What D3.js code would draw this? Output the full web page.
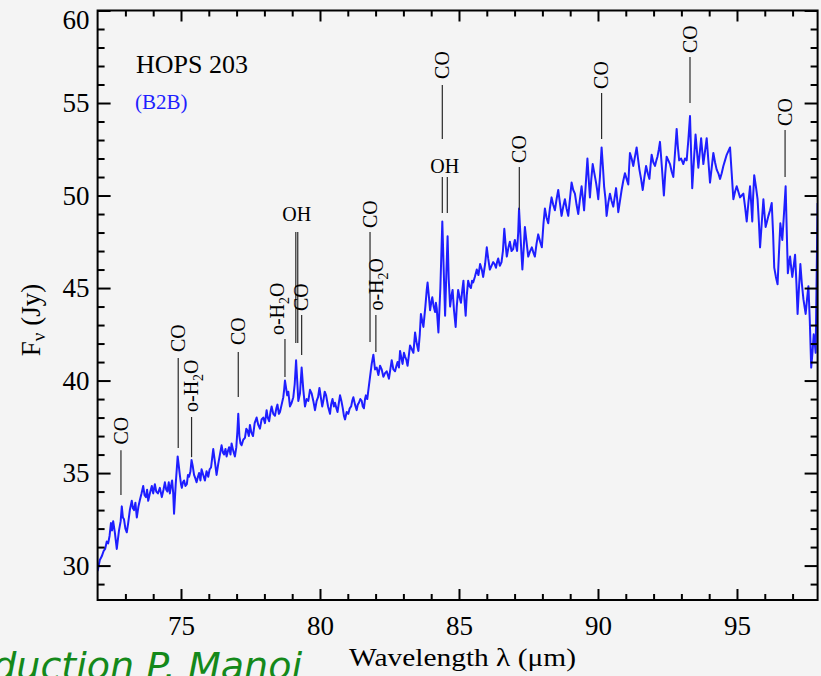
<!DOCTYPE html>
<html>
<head>
<meta charset="utf-8">
<script src="https://cdn.jsdelivr.net/npm/d3@7"></script>
<style>
  html, body { margin: 0; padding: 0; background: #f4f4f4; }
  svg { display: block; }
</style>
</head>
<body>
<svg id="chart" width="821" height="676"></svg>
<script>
// PACS spectrum of HOPS 203, wavelength in micron and flux density in Jy
const wavelength = [
  72.00, 72.08, 72.15, 72.22, 72.27, 72.33, 72.38, 72.43, 72.48, 72.52, 72.56, 72.62, 72.69, 72.77, 72.83, 72.87,
  72.91, 72.95, 73.00, 73.05, 73.10, 73.16, 73.23, 73.27, 73.31, 73.36, 73.41, 73.47, 73.53, 73.58, 73.64, 73.69,
  73.74, 73.78, 73.82, 73.88, 73.95, 74.00, 74.06, 74.11, 74.17, 74.24, 74.31, 74.37, 74.42, 74.47, 74.51, 74.56,
  74.60, 74.64, 74.68, 74.72, 74.75, 74.81, 74.88, 74.92, 74.95, 75.00, 75.03, 75.07, 75.11, 75.16, 75.21, 75.25,
  75.29, 75.34, 75.38, 75.42, 75.47, 75.52, 75.56, 75.61, 75.65, 75.70, 75.74, 75.80, 75.86, 75.92, 75.98, 76.03,
  76.08, 76.12, 76.16, 76.22, 76.28, 76.34, 76.40, 76.46, 76.51, 76.55, 76.60, 76.64, 76.69, 76.73, 76.78, 76.82,
  76.88, 76.94, 76.99, 77.03, 77.06, 77.10, 77.14, 77.18, 77.24, 77.30,
  77.35, 77.39, 77.44, 77.48, 77.53, 77.59, 77.65, 77.72, 77.78, 77.84, 77.90, 77.96, 78.02, 78.08, 78.12, 78.17,
  78.22, 78.26, 78.32, 78.38, 78.43, 78.47, 78.52, 78.56, 78.62, 78.68, 78.71, 78.74, 78.78, 78.82, 78.86, 78.92,
  78.98, 79.04, 79.09, 79.14, 79.18, 79.22, 79.28, 79.34, 79.40, 79.46, 79.52, 79.58, 79.64, 79.70, 79.76, 79.82,
  79.88, 79.93, 79.98, 80.04, 80.08, 80.12, 80.17, 80.22, 80.29, 80.36, 80.40, 80.45, 80.50, 80.54, 80.59, 80.63,
  80.68, 80.72, 80.77, 80.82, 80.86, 80.90, 80.96, 81.02, 81.07, 81.12, 81.16, 81.20, 81.26, 81.32, 81.36, 81.40,
  81.45, 81.50, 81.54, 81.58, 81.62, 81.65, 81.70, 81.75, 81.80, 81.86, 81.92, 81.98, 82.04, 82.10, 82.16, 82.22,
  82.28, 82.34, 82.40,
  82.44, 82.48, 82.53, 82.58, 82.64, 82.70, 82.75, 82.79, 82.84, 82.88, 82.93, 82.97, 83.02, 83.06, 83.11, 83.15,
  83.20, 83.24, 83.30, 83.36, 83.42, 83.48, 83.54, 83.59, 83.63, 83.68, 83.72, 83.79, 83.84, 83.87, 83.92, 83.96,
  84.00, 84.04, 84.09, 84.14, 84.17, 84.20, 84.26, 84.33, 84.40, 84.45, 84.50, 84.55, 84.59, 84.63, 84.68, 84.73,
  84.77, 84.82, 84.88, 84.92, 84.97, 85.02, 85.07, 85.12, 85.16, 85.20, 85.24, 85.28, 85.33, 85.38, 85.43, 85.47,
  85.51, 85.57, 85.64, 85.70, 85.76, 85.82, 85.87, 85.94, 86.00, 86.05, 86.11, 86.17, 86.23, 86.28, 86.33, 86.37,
  86.41, 86.47, 86.53, 86.58, 86.63, 86.68, 86.72, 86.78, 86.83, 86.89, 86.95, 86.98, 87.01, 87.05, 87.09, 87.13,
  87.16, 87.22, 87.28, 87.33, 87.37, 87.43, 87.49, 87.56, 87.62,
  87.68, 87.73, 87.79, 87.85, 87.92, 87.98, 88.04, 88.09, 88.15, 88.21, 88.27, 88.33, 88.39, 88.45, 88.51, 88.57,
  88.63, 88.69, 88.75, 88.81, 88.87, 88.93, 88.99, 89.05, 89.11, 89.17, 89.23, 89.29, 89.35, 89.41, 89.46, 89.50,
  89.56, 89.62, 89.67, 89.71, 89.76, 89.81, 89.87, 89.93, 89.97, 90.01, 90.07, 90.13, 90.18, 90.22, 90.27, 90.31,
  90.37, 90.43, 90.49, 90.55, 90.60, 90.65, 90.69, 90.73, 90.79, 90.85, 90.91, 90.97, 91.03, 91.09, 91.12, 91.15,
  91.21, 91.27, 91.33, 91.39, 91.44, 91.49, 91.55, 91.61, 91.67, 91.73, 91.79, 91.85, 91.89, 91.93, 91.99, 92.05,
  92.10, 92.14, 92.19, 92.23, 92.30, 92.37, 92.42, 92.47, 92.53, 92.59, 92.65, 92.71, 92.77, 92.83, 92.87, 92.92,
  92.99, 93.07, 93.13, 93.19, 93.25, 93.31, 93.35, 93.39, 93.45, 93.51, 93.56, 93.61, 93.66, 93.71, 93.75, 93.79,
  93.85, 93.91, 93.97, 94.03, 94.09, 94.15, 94.21, 94.27, 94.33, 94.39, 94.45, 94.51, 94.57, 94.63, 94.69, 94.75,
  94.81, 94.87, 94.93, 94.99, 95.05, 95.11, 95.17, 95.23, 95.29, 95.35, 95.41, 95.47, 95.51, 95.55, 95.58, 95.62,
  95.68, 95.74, 95.79, 95.83, 95.89, 95.95, 95.99, 96.03, 96.08, 96.13, 96.19, 96.25, 96.30, 96.34, 96.40, 96.46,
  96.51, 96.56, 96.60, 96.63, 96.69, 96.75, 96.79, 96.83, 96.87, 96.91, 96.95, 96.99, 97.04, 97.09, 97.14, 97.18,
  97.23, 97.28, 97.33, 97.39, 97.43, 97.47, 97.52, 97.57, 97.62, 97.67, 97.72, 97.76, 97.80, 97.83, 97.90
];
const flux = [
  29.7, 30.3, 30.5, 30.8, 30.9, 31.3, 31.2, 31.6, 32.3, 31.9, 32.4, 31.8, 30.9, 31.9, 32.4, 33.2,
  32.6, 32.5, 32.0, 31.8, 32.3, 33.0, 33.5, 33.1, 33.0, 33.4, 32.6, 33.2, 33.6, 33.9, 34.3, 33.8,
  33.7, 34.1, 33.5, 33.9, 34.3, 33.9, 34.4, 34.0, 33.9, 34.2, 33.7, 34.1, 34.5, 34.1, 34.0, 34.5,
  33.9, 34.3, 34.6, 33.9, 32.8, 34.4, 35.9, 35.4, 35.0, 34.4, 34.2, 34.5, 34.6, 34.3, 34.4, 34.9,
  34.8, 35.1, 35.7, 35.4, 34.9, 34.7, 34.5, 34.8, 35.0, 34.6, 35.2, 34.9, 34.6, 35.1, 34.8, 35.2,
  35.3, 35.8, 36.3, 35.6, 34.9, 35.5, 36.0, 36.5, 36.1, 36.0, 36.3, 35.9, 36.2, 36.4, 36.0, 36.6,
  36.2, 35.9, 36.4, 37.3, 38.2, 37.0, 36.6, 36.5, 36.8, 36.9,
  37.4, 37.3, 37.0, 37.6, 37.2, 37.0, 37.7, 38.0, 37.6, 37.4, 37.9, 38.0, 37.7, 38.4, 38.0, 37.8,
  38.3, 38.6, 38.2, 38.1, 38.5, 38.7, 38.2, 38.3, 38.7, 39.1, 39.5, 40.0, 39.6, 39.2, 39.4, 38.6,
  38.8, 39.1, 39.8, 41.1, 40.0, 38.9, 39.3, 40.7, 39.5, 38.6, 39.0, 38.9, 39.5, 39.3, 38.9, 38.4,
  38.9, 39.1, 39.6, 39.0, 38.6, 38.9, 39.4, 39.2, 38.6, 38.2, 38.7, 39.0, 38.6, 38.8, 38.5, 38.3,
  38.8, 39.2, 38.9, 38.5, 38.1, 37.9, 38.3, 38.2, 38.5, 38.6, 38.9, 39.1, 38.7, 38.4, 38.7, 38.8,
  39.0, 38.9, 38.6, 38.5, 39.0, 39.2, 39.0, 39.6, 40.2, 40.9, 41.4, 40.6, 40.7, 40.3, 40.8, 40.6,
  40.2, 40.4, 40.5,
  40.3, 40.1, 40.6, 41.1, 40.6, 40.5, 40.8, 41.0, 40.7, 41.6, 41.2, 40.9, 41.5, 41.3, 41.1, 40.8,
  41.4, 41.9, 41.7, 41.5, 42.6, 42.0, 41.6, 42.5, 43.6, 43.2, 42.9, 44.0, 44.9, 45.3, 44.5, 43.8,
  44.2, 44.5, 44.0, 43.7, 44.2, 43.9, 42.6, 45.0, 48.6, 46.0, 43.5, 46.0, 47.8, 45.5, 44.0, 44.6,
  44.9, 43.8, 42.9, 44.0, 44.9, 44.5, 44.2, 44.9, 45.4, 44.3, 43.5, 44.6, 45.4, 45.1, 45.0, 45.4,
  45.3, 45.6, 46.0, 45.7, 46.3, 46.0, 45.6, 46.3, 47.2, 46.6, 46.0, 46.2, 46.4, 46.3, 46.1, 46.4,
  46.6, 46.2, 46.4, 47.0, 48.2, 47.3, 46.7, 47.2, 47.5, 47.0, 47.1, 47.4, 47.6, 47.3, 47.0, 48.0,
  49.3, 47.6, 46.0, 47.2, 48.3, 47.5, 46.7, 47.0, 47.2,
  46.9, 46.7, 47.4, 47.9, 47.5, 47.2, 48.5, 49.3, 48.8, 48.5, 49.3, 49.9, 49.5, 49.2, 49.8, 50.3,
  49.6, 48.9, 49.4, 49.8, 49.3, 48.9, 49.8, 50.7, 50.3, 50.1, 49.5, 49.0, 49.8, 50.5, 49.8, 49.2,
  50.6, 52.0, 50.8, 49.9, 50.9, 51.7, 51.2, 50.7, 50.3, 49.8, 51.0, 52.6, 51.5, 50.5, 49.8, 48.9,
  49.6, 50.1, 49.7, 49.4, 49.9, 50.4, 49.8, 49.1, 49.7, 50.3, 50.8, 51.2, 50.9, 50.6, 51.5, 52.3,
  52.0, 51.6, 52.1, 52.6, 52.0, 51.4, 50.9, 50.3, 51.0, 51.6, 51.2, 50.9, 51.6, 52.2, 51.8, 51.6,
  51.9, 52.1, 52.5, 52.9, 51.5, 50.0, 51.2, 52.1, 51.9, 51.7, 51.3, 51.0, 52.3, 53.6, 52.7, 51.9,
  52.0, 51.7, 52.0, 51.9, 53.0, 54.3, 52.3, 50.4, 51.9, 53.3, 52.4, 51.5, 52.3, 53.1, 52.4, 51.7,
  52.4, 53.1, 51.9, 50.7, 51.5, 52.3, 51.8, 51.4, 51.2, 50.9, 51.2, 51.6, 51.9, 52.2, 52.4, 52.6,
  51.2, 49.8, 50.2, 50.5, 50.2, 49.9, 50.0, 50.1, 49.4, 48.6, 49.6, 50.5, 49.6, 48.6, 49.9, 51.1,
  50.5, 49.8, 48.5, 47.2, 48.5, 49.8, 49.0, 48.3, 48.6, 48.9, 49.2, 49.6, 47.9, 46.1, 45.6, 45.2,
  46.9, 48.5, 48.0, 47.6, 49.0, 50.5, 48.1, 45.8, 46.3, 46.7, 46.1, 45.6, 46.2, 46.8, 45.2, 43.6,
  45.0, 46.3, 45.3, 44.4, 44.0, 43.6, 44.4, 45.1, 43.2, 40.7, 41.6, 42.5, 42.0, 41.5, 49.6
];

// Axis tick values
const xTickValues = [75, 80, 85, 90, 95];
const yTickValues = [30, 35, 40, 45, 50, 55, 60];

// Line identifications: species, line wavelength(s), marker top/bottom and label start (Jy)
const featureNames = ["CO", "CO", "o-H2O", "CO", "o-H2O", "OH", "CO", "CO", "o-H2O", "CO", "OH", "CO", "CO", "CO", "CO"];
const featureWaves = [[72.84], [74.90], [75.38], [77.06], [78.74], [79.13, 79.20], [79.34], [81.80], [82.01],
                      [84.40], [84.40, 84.58], [87.17], [90.13], [93.31], [96.73]];
const featureTops = [36.24, 41.22, 38.03, 41.54, 42.24, 48.03, 43.54, 48.03, 43.54, 55.97, 51.00, 51.54, 55.54, 57.49, 53.54];
const featureBottoms = [33.81, 36.35, 35.86, 39.11, 40.19, 42.03, 41.38, 42.08, 41.54, 53.05, 49.05, 49.22, 53.05, 55.00, 51.00];
const featureLabelAt = [36.54, 41.54, 38.30, 41.92, 42.46, 48.62, 43.76, 48.24, 43.78, 56.30, 51.20, 51.76, 55.76, 57.70, 53.76];

const plot = { left: 97.6, right: 817.6, top: 10.5, bottom: 600 };
const x = d3.scaleLinear().domain([72, 97.9]).range([plot.left, plot.right]);
const y = d3.scaleLinear().domain([28.14, 60]).range([plot.bottom, plot.top]);

const svg = d3.select("#chart");
const serif = "'Liberation Serif', 'Times New Roman', serif";

svg.append("rect").attr("width", 821).attr("height", 676).attr("fill", "#f4f4f4");

svg.append("defs").append("clipPath").attr("id", "plot-clip")
  .append("rect")
  .attr("x", plot.left).attr("y", plot.top)
  .attr("width", plot.right - plot.left).attr("height", plot.bottom - plot.top);

// Spectrum
const line = d3.line()
  .x(i => x(wavelength[i]))
  .y(i => y(flux[i]));

svg.append("path")
  .datum(d3.range(wavelength.length))
  .attr("clip-path", "url(#plot-clip)")
  .attr("fill", "none")
  .attr("stroke", "#1e1eff")
  .attr("stroke-width", 2)
  .attr("stroke-linejoin", "round")
  .attr("d", line);

// Line markers
const marks = svg.append("g").attr("class", "features");
featureNames.forEach((name, i) => {
  featureWaves[i].forEach(w => {
    marks.append("line")
      .attr("x1", x(w)).attr("x2", x(w))
      .attr("y1", y(featureTops[i])).attr("y2", y(featureBottoms[i]))
      .attr("stroke", "#2a2a2a").attr("stroke-width", 1.2);
  });
  const xc = d3.mean(featureWaves[i], w => x(w));
  if (name === "OH") {
    marks.append("text")
      .attr("x", xc).attr("y", y(featureLabelAt[i]))
      .attr("text-anchor", "middle")
      .style("font-family", serif).style("font-size", "20px")
      .attr("fill", "#000")
      .text("OH");
    return;
  }
  // the water line beside the OH doublet carries its label set off to the left
  const shift = (name === "o-H2O" && Math.abs(featureWaves[i][0] - 78.74) < 0.01) ? -8 : 0;
  const t = marks.append("text")
    .attr("transform", `translate(${xc + shift},${y(featureLabelAt[i])}) rotate(-90)`)
    .attr("dy", "0.34em")
    .style("font-family", serif).style("font-size", "20px")
    .attr("fill", "#000");
  if (name === "o-H2O") {
    t.append("tspan").text("o-H");
    t.append("tspan").style("font-size", "14px").attr("dy", 5).text("2");
    t.append("tspan").attr("dy", -5).text("O");
  } else {
    t.text(name);
  }
});

// Axes: ticks drawn inward on all four sides
function styleAxis(g) {
  g.attr("font-family", null).attr("font-size", null);
  g.select(".domain").remove();
  g.selectAll(".tick line").attr("stroke", "#000").attr("stroke-width", 2);
  g.selectAll(".tick text")
    .style("font-family", serif)
    .style("font-size", "27px")
    .attr("fill", "#000");
}
const xMinor = d3.range(73, 98).filter(v => v % 5 !== 0);
const yMinor = d3.range(29, 60).filter(v => v % 5 !== 0);

svg.append("g").attr("transform", `translate(0,${plot.bottom})`)
  .call(d3.axisBottom(x).tickValues(xTickValues).tickSize(-11).tickSizeOuter(0).tickPadding(16))
  .call(styleAxis);
svg.append("g").attr("transform", `translate(0,${plot.bottom})`)
  .call(d3.axisBottom(x).tickValues(xMinor).tickSize(-6).tickSizeOuter(0).tickFormat(""))
  .call(styleAxis);
svg.append("g").attr("transform", `translate(0,${plot.top})`)
  .call(d3.axisTop(x).tickValues(xTickValues).tickSize(-11).tickSizeOuter(0).tickFormat(""))
  .call(styleAxis);
svg.append("g").attr("transform", `translate(0,${plot.top})`)
  .call(d3.axisTop(x).tickValues(xMinor).tickSize(-6).tickSizeOuter(0).tickFormat(""))
  .call(styleAxis);

const yAxisG = svg.append("g").attr("transform", `translate(${plot.left},0)`)
  .call(d3.axisLeft(y).tickValues(yTickValues).tickSize(-13).tickSizeOuter(0).tickPadding(8))
  .call(styleAxis);
// keep the top label inside the frame height
yAxisG.selectAll(".tick").filter(d => d === 60).select("text").attr("dy", "0.66em");
svg.append("g").attr("transform", `translate(${plot.left},0)`)
  .call(d3.axisLeft(y).tickValues(yMinor).tickSize(-7).tickSizeOuter(0).tickFormat(""))
  .call(styleAxis);
svg.append("g").attr("transform", `translate(${plot.right},0)`)
  .call(d3.axisRight(y).tickValues(yTickValues).tickSize(-13).tickSizeOuter(0).tickFormat(""))
  .call(styleAxis);
svg.append("g").attr("transform", `translate(${plot.right},0)`)
  .call(d3.axisRight(y).tickValues(yMinor).tickSize(-7).tickSizeOuter(0).tickFormat(""))
  .call(styleAxis);

// Frame
svg.append("rect")
  .attr("x", plot.left).attr("y", plot.top)
  .attr("width", plot.right - plot.left).attr("height", plot.bottom - plot.top)
  .attr("fill", "none").attr("stroke", "#000").attr("stroke-width", 2);

// Axis titles
svg.append("text")
  .attr("x", 349).attr("y", 666)
  .style("font-family", serif).style("font-size", "25px")
  .attr("textLength", 227).attr("lengthAdjust", "spacingAndGlyphs")
  .attr("fill", "#000")
  .text("Wavelength λ (μm)");

const yTitle = svg.append("text")
  .attr("transform", "translate(40,320) rotate(-90)")
  .attr("text-anchor", "middle")
  .style("font-family", serif).style("font-size", "27px")
  .attr("fill", "#000");
yTitle.append("tspan").text("F");
yTitle.append("tspan").style("font-size", "19px").attr("dy", 5).text("ν");
yTitle.append("tspan").attr("dy", -5).text(" (Jy)");

// Source name and module
svg.append("text")
  .attr("x", 136).attr("y", 72.7)
  .style("font-family", serif).style("font-size", "26px")
  .attr("fill", "#000")
  .text("HOPS 203");
svg.append("text")
  .attr("x", 135).attr("y", 108.5)
  .style("font-family", serif).style("font-size", "21px")
  .attr("fill", "#1e1eff")
  .text("(B2B)");

// Credit line
svg.append("text")
  .attr("x", 302).attr("y", 679)
  .attr("text-anchor", "end")
  .style("font-family", "'DejaVu Sans', Verdana, sans-serif")
  .style("font-style", "italic")
  .style("font-size", "38px")
  .attr("fill", "#14891a")
  .text("Data reduction P. Manoj");
</script>
</body>
</html>
